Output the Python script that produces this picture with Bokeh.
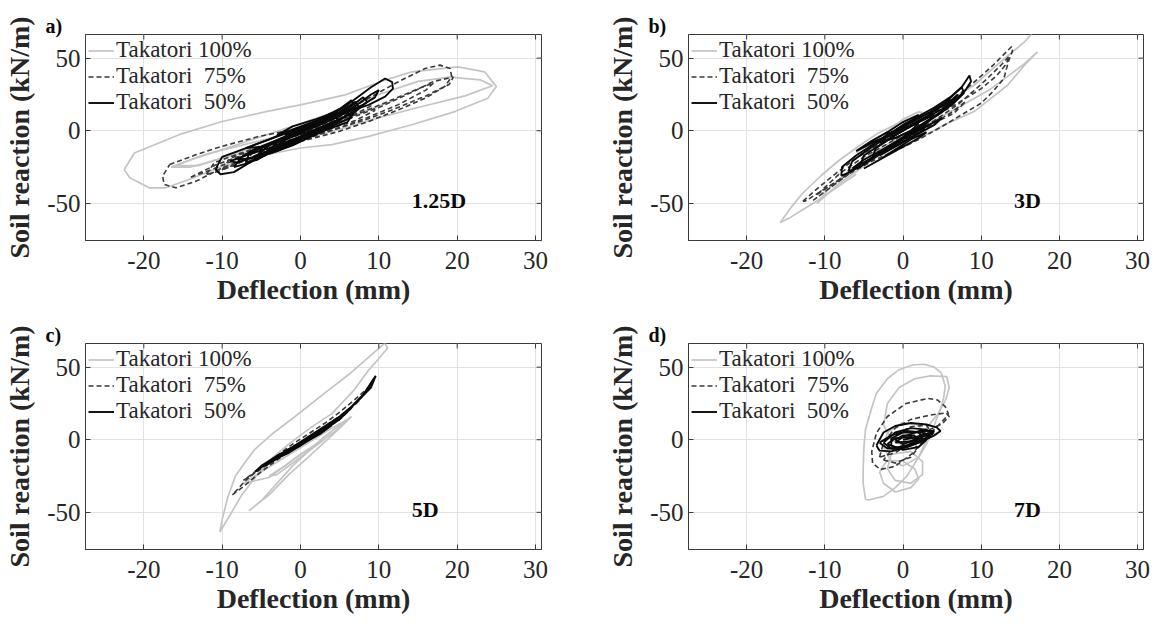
from bokeh.plotting import figure
from bokeh.models import Range1d, FixedTicker, Label, Legend, LegendItem
from bokeh.layouts import column, row
from bokeh.embed import file_html
from bokeh.resources import INLINE

# ---------------- text / ticks ----------------
SERIES = ["Takatori 100%", "Takatori\u00a0 75%", "Takatori\u00a0 50%"]
PANEL_TAGS = ["a)", "b)", "c)", "d)"]
DEPTHS = ["1.25D", "3D", "5D", "7D"]
X_TICKS = [-20, -10, 0, 10, 20, 30]
X_TICK_LABELS = ["-20", "-10", "0", "10", "20", "30"]
Y_TICKS = [-50, 0, 50]
Y_TICK_LABELS = ["-50", "0", "50"]
X_LABEL = "Deflection (mm)"
Y_LABEL = "Soil reaction (kN/m)"
X_LIM = (-27.44, 30.76)
Y_LIM = (-75.6, 66.3)

# ---------------- data (deflection mm, soil reaction kN/m), loops ----------------
# a) 1.25D
A_100 = [
    [(-22.5, -26.7), (-21.2, -15.3), (-15.5, -2.7), (-10, 6.4), (-4.4, 13.2), (0, 17.8), (5.7, 24.7), (10.2, 33.8),
     (14.2, 40.6), (20.1, 44), (23.5, 40.6), (25, 30.4), (23.9, 22.4), (19.7, 13.2), (14.2, 4.1), (8.7, -3.9),
     (4, -9.6), (0, -11.9), (-4.4, -16.4), (-10, -24.4), (-14.2, -33.6), (-17.2, -39.3), (-19.3, -39.3),
     (-21.8, -32.4), (-22.5, -26.7)],
    [(-16.5, -25), (-14, -20), (-10, -13), (-5, -4), (0, 5), (5, 14), (10, 25), (15, 34), (19, 37), (23, 35),
     (24.5, 31), (21, 24), (15, 16), (10, 9), (5, 1), (0, -6), (-5, -12), (-10, -19), (-14, -25), (-16.5, -25)],
    [(-16, -24), (-12, -16), (-6, -8), (0, 0), (6, 9), (12, 21), (10, 17), (4, 5), (-2, -5), (-8, -15), (-13, -24),
     (-16, -24)],
]
A_75 = [
    [(-16.7, -23.3), (-13.3, -16.4), (-10, -10.7), (-5.3, -3.9), (0, 1.8), (4.9, 11), (8.7, 22.4), (12.5, 33.8),
     (15.9, 42.9), (17.8, 45.2), (19.1, 42.9), (19.3, 37.2), (18.4, 30.4), (15.9, 22.4), (12.5, 14.4), (8.7, 6.4),
     (4.9, -0.5), (0, -7.3), (-5.3, -16.4), (-10, -25.6), (-13.3, -34.7), (-15.9, -39.3), (-17.4, -37),
     (-17.6, -31.3), (-16.7, -23.3)],
    [(-14, -32), (-11, -24), (-6, -14), (0, -4), (5, 6), (10, 16), (14, 26), (17, 34), (19.5, 37), (19, 32),
     (16, 24), (12, 15), (8, 7), (3, -1), (-2, -9), (-7, -17), (-11, -26), (-14, -32)],
    [(-12, -30), (-11, -22), (-8, -16), (-4, -9), (0, -2), (4, 5), (8, 13), (12, 22), (15.5, 30), (17, 33),
     (16, 28), (12.5, 18), (8.5, 9), (4.5, 1), (0.5, -6), (-3.5, -13), (-7.5, -21), (-10.5, -28), (-12, -30)],
    [(-10, -27), (-9, -19), (-6, -13), (-2, -6), (2, 1), (6, 9), (9, 17), (9.5, 14), (7, 7), (3, 0), (-1, -7),
     (-5, -15), (-8.5, -24), (-10, -27)],
    [(-7, -22), (-6, -14), (-3, -7), (1, 0), (4, 7), (7, 15), (6.5, 10), (3.5, 3), (0, -4), (-3, -11), (-5.5, -18),
     (-7, -22)],
]
A_50 = [
    [(-10.6, -24), (-10, -18), (-8.5, -15), (-6, -10), (-3, -4), (0, 2), (3, 9), (5.5, 16), (7.5, 24), (9, 30),
     (10.8, 36), (11.7, 33.5), (11.8, 29), (10.8, 23.5), (8.7, 17.8), (6, 13), (3.5, 7.5), (1, 1), (-1.5, -5),
     (-4, -13), (-6.5, -22), (-8.5, -28.5), (-10.2, -30), (-10.8, -27), (-10.6, -24)],
    [(-8.5, -25), (-7.5, -18), (-5, -12), (-2, -5), (1, 2), (4, 9), (6.5, 17), (8, 23), (8.5, 20), (7, 13),
     (4.5, 7), (2, 1), (-1, -7), (-4, -15), (-6.5, -22), (-8.5, -25)],
    [(-7, -22), (-6.5, -15), (-4, -9), (-1, -2), (2, 5), (5, 13), (7, 20), (7.5, 16), (5.5, 9), (3, 3), (0, -4),
     (-3, -12), (-5.5, -20), (-7, -22)],
    [(-5.5, -19), (-5, -12), (-2.5, -6), (0.5, 0), (3, 6), (5.5, 14), (6, 11), (4, 4), (1, -2), (-2, -9),
     (-4.5, -17), (-5.5, -19)],
    [(-4, -14), (-3, -8), (-0.5, -2), (2, 3), (4.5, 9), (5, 7), (2.5, 1), (0, -4), (-2.5, -10), (-4, -14)],
    [(-9, -21), (-7, -17), (-4, -12), (-1, -6), (2, -1), (1, -4), (-2, -10), (-5, -16), (-8, -22), (-9, -21)],
    [(-2, -3), (1, 4), (4, 11), (6.5, 21), (7, 17), (5, 10), (2, 3), (-1, -3), (-2, -3)],
    [(3, 6), (5, 11), (7, 17), (9, 25), (10, 28), (9.5, 23), (8, 18), (6, 13), (4, 9), (3, 6)],
    [(-8, -20), (-6, -13), (-3, -7), (0, -1), (3, 6), (6, 13), (6.5, 9), (4, 3), (1, -3), (-2, -10), (-5, -18),
     (-8, -20)],
    [(-6, -19), (-4, -10), (-1, -4), (2, 1), (5, 8), (7, 14), (6, 6), (3, 0), (0, -7), (-3, -14), (-6, -19)],
    [(-7, -12), (-4, -6), (-1, 1), (2, 7), (5, 15), (4, 10), (1, 3), (-2, -4), (-5, -11), (-7, -12)],
    [(-4, -16), (-2, -11), (0, -6), (2, -1), (4, 4), (3, 0), (1, -5), (-1, -10), (-4, -16)],
    [(-3, -3), (-1, 3), (2, 8), (4, 12), (3, 8), (0, 2), (-3, -3)],
]

# b) 3D
B_100 = [
    [(-15.7, -63.2), (-14.5, -54), (-12.9, -43.4), (-10.5, -31), (-8.2, -20.5), (-5.5, -10), (-3.4, -2.3),
     (0, 6.8), (3, 13), (6, 21), (9, 31), (11.3, 42), (13.5, 52), (15.5, 61), (16.5, 67), (17, 70)],
    [(-15.7, -63.2), (-14.5, -60), (-13, -55), (-11.5, -50), (-9, -41), (-6, -30)],
    [(17.2, 54.3), (15.5, 45), (13.4, 31.5), (9.1, 13.2), (5.3, 4.1), (0, -11.4), (-3.4, -18.3), (-8.2, -36.5),
     (-11, -50), (-9.5, -40), (-7, -28), (-4, -16), (-1, -6), (2, 2), (5, 10), (8, 19), (11, 28), (13.5, 38),
     (15.5, 46), (17.2, 54.3)],
    [(-6, -15), (-3, -5), (0, 8), (2, 13), (3, 12), (1, 4), (-2, -6), (-5, -16), (-6, -15)],
]
B_75 = [
    [(-12.8, -48.5), (-11, -40), (-8.5, -29), (-6, -19), (-3, -9), (0, 0), (3, 9), (6, 20), (9, 33), (11.5, 45),
     (13.9, 58), (14, 55), (13.5, 48), (12.9, 36), (11.5, 27), (10, 19), (7.5, 11), (5, 3), (2, -6), (-1, -14),
     (-4, -21), (-7, -30), (-10, -40), (-12.5, -48.5), (-12.8, -48.5)],
    [(-11, -44), (-8, -33), (-5, -22), (-2, -12), (1, -3), (4, 7), (7, 18), (10, 32), (12.5, 45), (13.6, 51.5),
     (13.2, 46), (12, 38), (10, 29), (7, 19), (4, 10), (1, 0), (-2, -9), (-5, -18), (-8, -29), (-11, -44)],
    [(-11.5, -48), (-9, -38), (-6, -26), (-3, -16), (0, -7), (3, 2), (6, 12), (8, 20), (6.5, 12), (3.5, 4),
     (0.5, -5), (-2.5, -14), (-5.5, -24), (-8.5, -36), (-11.5, -48)],
]
B_50 = [
    [(-7.9, -31), (-7.8, -25), (-6, -17), (-4, -10), (-2, -3), (0, 4), (2, 10), (4, 16), (6, 23), (7.5, 30),
     (8.5, 38), (8.7, 34), (8, 28), (6.5, 20), (5, 13), (3, 6), (1, -2), (-1, -9), (-3, -15), (-5, -22), (-7, -29),
     (-7.9, -31)],
    [(-7, -28), (-6.5, -21), (-4.5, -13), (-2.5, -6), (-0.5, 1), (1.5, 7), (3.5, 13), (5.5, 20), (7.5, 30),
     (7.8, 26), (6.5, 19), (4.5, 11), (2.5, 4), (0.5, -4), (-1.5, -11), (-3.5, -18), (-5.5, -25), (-7, -28)],
    [(-5.5, -24), (-5, -17), (-3, -10), (-1, -3), (1, 4), (3, 10), (5, 17), (6, 22), (5.8, 17), (4, 10), (2, 3),
     (0, -5), (-2, -12), (-4, -19), (-5.5, -24)],
    [(-4, -20), (-3.5, -12), (-1.5, -5), (0.5, 2), (2.5, 8), (4, 12), (3.5, 8), (1.5, 1), (-0.5, -6), (-2.5, -13),
     (-4, -20)],
    [(-6.5, -26), (-5, -20), (-3, -14), (-1, -8), (1, -2), (3, 4), (2.5, 0), (0.5, -6), (-1.5, -12), (-4, -19),
     (-6.5, -26)],
    [(-2, -4), (0, 4), (2, 9), (4, 14), (6, 20), (7, 25), (6.5, 21), (5, 15), (3, 9), (1, 3), (-1, -3), (-2, -4)],
    [(-3, -8), (-2, -2), (0, 2), (2, 5), (1, 0), (-1, -5), (-3, -8)],
    [(-6, -14), (-4, -7), (-2, -1), (0, 6), (2, 11), (1, 6), (-1, 0), (-3, -6), (-6, -14)],
    [(-5, -26), (-3, -20), (-1, -13), (1, -6), (3, -1), (2, -5), (0, -11), (-2, -17), (-5, -26)],
    [(-4, -8), (-2, -4), (0, 1), (2, 6), (4, 11), (3, 5), (1, 0), (-1, -5), (-4, -8)],
    [(-3, -17), (-1, -9), (1, -3), (3, 3), (5, 9), (4, 4), (2, -2), (0, -8), (-3, -17)],
]

# c) 5D
C_100 = [
    [(-10.3, -63.5), (-10, -55), (-9.3, -40), (-8.3, -25), (-7, -15), (-5.9, -7), (-3.5, 4.5), (-0.7, 16),
     (2.6, 30), (6.4, 46), (9.7, 61.5), (10.8, 66.7), (11.1, 63), (10, 56), (8.7, 48), (6.8, 34), (4, 18),
     (1.2, 8), (-1.5, -3), (-3.5, -12), (-5.5, -24), (-7.5, -38), (-9, -52), (-10.3, -63.5)],
    [(-6.6, -49), (-5, -42), (-3, -30), (-1, -18), (1, -8), (3, 2), (5, 10), (6.5, 16), (5, 8), (3, -2), (1, -12),
     (-1.5, -24), (-4, -38), (-6.6, -49)],
    [(-7.3, -30), (-5, -22), (-2, -12), (1, -2), (4, 8), (6, 14), (4.5, 6), (2, -3), (-1, -14), (-4, -26),
     (-7.3, -30)],
    [(-4, -25), (-2, -18), (0, -10), (2, -3), (3, 0), (1, -8), (-1, -16), (-3, -24), (-4, -25)],
]
C_75 = [
    [(-8.7, -38), (-7, -31), (-5, -22), (-3, -14), (-1, -6), (1, 1), (3, 8), (5, 16), (7, 25), (8.5, 34),
     (9.3, 42), (8.7, 36), (7, 28), (5, 19), (3, 11), (1, 4), (-1, -3), (-3, -11), (-5, -19), (-7, -28),
     (-8.7, -38)],
    [(-7.3, -28), (-5, -20), (-2.5, -11), (0, -3), (2.5, 5), (5, 14), (7.5, 27), (9.3, 40), (8, 30), (5.5, 18),
     (3, 9), (0.5, 0), (-2, -8), (-4.5, -17), (-7.3, -28)],
]
C_50 = [
    [(-5.8, -22), (-4, -15), (-2, -8), (0, -2), (2, 5), (4, 12), (6, 20), (8, 31), (9.6, 44), (9, 36), (7, 25),
     (5, 16), (3, 9), (1, 2), (-1, -5), (-3, -11), (-5, -18), (-5.8, -22)],
    [(-4.5, -18), (-2.5, -11), (-0.5, -4), (1.5, 2), (3.5, 9), (5.5, 17), (6.5, 22), (5, 14), (3, 7), (1, 1),
     (-1, -6), (-3, -13), (-4.5, -18)],
    [(-3.5, -14), (-1.5, -7), (0.5, -1), (2.5, 5), (4, 10), (2.5, 4), (0.5, -2), (-1.5, -9), (-3.5, -14)],
    [(-2, -10), (0, -4), (2, 3), (3, 7), (1, 0), (-1, -6), (-2, -10)],
]

# d) 7D
D_100 = [
    [(-4.8, -41), (-5.1, -30), (-5.1, -20), (-5, -5), (-4.8, 7), (-4, 22), (-3.4, 32), (-2, 42), (-0.6, 48),
     (1.2, 51.5), (2.7, 52), (4, 50), (4.9, 46), (5.4, 37), (5.2, 29), (4.9, 23), (4, 10), (3, -3), (2, -12),
     (0.5, -25), (-1, -33), (-2.5, -39), (-4.4, -41.5), (-4.8, -41)],
    [(-2.5, 10), (-2, 25), (-0.5, 36), (1.5, 42), (3.5, 44), (5.6, 43.5), (5.9, 36), (5.5, 28), (4.5, 18), (3, 8),
     (1.5, 0), (0, -4), (-1.5, 0), (-2.5, 10)],
    [(-3, -22), (-2.5, -30), (-1, -36), (1, -33), (2, -27), (1.5, -20), (0, -15), (-2, -14), (-3, -22)],
    [(-1.5, -10), (-2, -20), (-1, -28), (1, -30), (2.5, -24), (2.5, -15), (1, -8), (-1.5, -10)],
    [(-2, 5), (-2.5, -5), (-1.5, -15), (0, -18), (2, -12), (3, 0), (2, 10), (0, 12), (-2, 5)],
]
D_75 = [
    [(-3.9, -16), (-4, -8), (-3.4, 4.6), (-2, 16), (0.4, 25), (3.2, 28.5), (4.4, 27.4), (5.4, 22.8), (5.8, 18),
     (5.6, 16), (4.6, 10.3), (3, 2), (1.3, -9), (-1, -18.3), (-2.9, -20.5), (-3.9, -16)],
    [(-3, -12), (-2.5, -2), (-1, 8), (1, 14), (3.5, 17), (5.5, 18.5), (5.9, 16), (5, 11), (3, 6), (1, -2),
     (-1, -9), (-3, -12)],
    [(-2, -6), (-1, 3), (1, 9), (3, 10), (3.5, 6), (2, 0), (0, -6), (-2, -6)],
    [(-2.5, -14), (-1, -16), (1, -12), (2, -5), (0.5, -3), (-1.5, -7), (-2.5, -14)],
]
D_50 = [
    [(-3.4, -4), (-3, -7.5), (-1.5, -8), (0.5, -5), (2.5, -1), (4, 3), (4.8, 6), (4.3, 8.5), (3, 10.5), (1, 11.5),
     (-1, 9.5), (-2.5, 5), (-3.4, -4)],
    [(-2.5, -2), (-1.5, -6), (0.5, -4), (2.5, 0), (3.8, 4), (3, 7), (1, 8), (-1, 5), (-2.5, -2)],
    [(-1.5, -4), (-0.5, -6), (1, -3), (2.5, 2), (2, 5), (0, 5), (-1.5, 1), (-1.5, -4)],
    [(-1, 0), (0, -3), (1.5, 0), (1.5, 3), (0, 3), (-1, 0)],
    [(-2, -3), (0, -7), (2, -5), (3, 0), (1, 2), (-1, 1), (-2, -3)],
    [(0, 0), (2, 2), (4, 5), (3, 4), (1, 1), (0, 0)],
    [(-3, -2), (-2, -6), (0, -6), (2, -2), (3.5, 2), (2.5, 5), (0.5, 6), (-1.5, 3), (-3, -2)],
    [(-1, -2), (1, -1), (3, 3), (4, 6), (2, 6), (0, 2), (-1, -2)],
]

PANEL_DATA = [(A_100, A_75, A_50), (B_100, B_75, B_50), (C_100, C_75, C_50), (D_100, D_75, D_50)]

# ---------------- styling ----------------
SERIF = "'Liberation Serif', 'Times New Roman', serif"
GRAY = "#c4c4c4"
DARK = "#3a3a3a"
BLACK = "#0a0a0a"
FRAME = "#3a3a3a"
TXT = "#262626"
TICK_PX = 5


def loops_to_xy(loops):
    xs = [[pt[0] for pt in lp] for lp in loops]
    ys = [[pt[1] for pt in lp] for lp in loops]
    return xs, ys


def make_panel(i, width, height, bl, br, bt, bb):
    p = figure(width=width, height=height, output_backend="svg", toolbar_location=None,
               x_range=Range1d(*X_LIM), y_range=Range1d(*Y_LIM),
               min_border_left=bl, min_border_right=br, min_border_top=bt, min_border_bottom=bb)
    p.background_fill_color = "white"
    p.border_fill_color = "white"
    p.outline_line_color = FRAME
    p.outline_line_width = 1

    s100, s75, s50 = PANEL_DATA[i]
    xs, ys = loops_to_xy(s100)
    r1 = p.multi_line(xs, ys, line_color=GRAY, line_width=1.7)
    xs, ys = loops_to_xy(s75)
    r2 = p.multi_line(xs, ys, line_color=DARK, line_width=1.6, line_dash="5 3")
    xs, ys = loops_to_xy(s50)
    r3 = p.multi_line(xs, ys, line_color=BLACK, line_width=1.9)

    # axes
    xa = p.xaxis[0]
    xa.ticker = FixedTicker(ticks=X_TICKS)
    xa.major_label_overrides = {t: l for t, l in zip(X_TICKS, X_TICK_LABELS)}
    xa.axis_label = X_LABEL
    ya = p.yaxis[0]
    ya.ticker = FixedTicker(ticks=Y_TICKS)
    ya.major_label_overrides = {t: l for t, l in zip(Y_TICKS, Y_TICK_LABELS)}
    ya.axis_label = Y_LABEL
    for ax in (xa, ya):
        ax.axis_label_text_font = SERIF
        ax.axis_label_text_font_style = "bold"
        ax.axis_label_text_font_size = "28px"
        ax.axis_label_text_color = TXT
        ax.major_label_text_font = SERIF
        ax.major_label_text_font_style = "normal"
        ax.major_label_text_font_size = "25px"
        ax.major_label_text_color = TXT
        ax.major_tick_in = TICK_PX
        ax.major_tick_out = 0
        ax.minor_tick_line_color = None
        ax.axis_line_color = FRAME
        ax.major_tick_line_color = FRAME
    xa.major_label_standoff = 11
    xa.axis_label_standoff = 2
    ya.major_label_standoff = 5
    ya.axis_label_standoff = 9

    p.xgrid[0].ticker = FixedTicker(ticks=X_TICKS)
    p.ygrid[0].ticker = FixedTicker(ticks=Y_TICKS)
    for g in (p.xgrid[0], p.ygrid[0]):
        g.grid_line_color = "#e2e2e2"
        g.grid_line_width = 1

    # box ticks (inward) on the top and right edges, at the same tick values
    frame_w = width - bl - br
    frame_h = height - bt - bb
    dy = TICK_PX * (Y_LIM[1] - Y_LIM[0]) / frame_h
    dx = TICK_PX * (X_LIM[1] - X_LIM[0]) / frame_w
    p.segment(x0=X_TICKS, y0=[Y_LIM[1]] * len(X_TICKS), x1=X_TICKS, y1=[Y_LIM[1] - dy] * len(X_TICKS),
              line_color=FRAME, line_width=1)
    p.segment(x0=[X_LIM[1]] * len(Y_TICKS), y0=Y_TICKS, x1=[X_LIM[1] - dx] * len(Y_TICKS), y1=Y_TICKS,
              line_color=FRAME, line_width=1)

    legend = Legend(items=[LegendItem(label=SERIES[0], renderers=[r1]),
                           LegendItem(label=SERIES[1], renderers=[r2]),
                           LegendItem(label=SERIES[2], renderers=[r3])],
                    location="top_left", margin=0, padding=3, spacing=0,
                    label_text_font=SERIF, label_text_font_style="normal",
                    label_text_font_size="23px", label_text_color=TXT,
                    label_height=25, glyph_height=25, glyph_width=26, label_standoff=2,
                    background_fill_alpha=0, border_line_alpha=0)
    p.add_layout(legend)

    p.add_layout(Label(x=14.2, y=-48, text=DEPTHS[i], text_font=SERIF, text_font_style="bold",
                       text_font_size="22px", text_color=BLACK, text_align="left",
                       text_baseline="middle"))

    p.title.text = PANEL_TAGS[i]
    p.title.align = "left"
    p.title.offset = -40
    p.title.standoff = -5
    p.title.text_font = SERIF
    p.title.text_font_style = "bold"
    p.title.text_font_size = "20px"
    p.title.text_color = BLACK
    return p


pa = make_panel(0, 588, 313, 85, 47, 34, 73)
pb = make_panel(1, 572, 313, 100, 17, 34, 73)
pc = make_panel(2, 588, 309, 85, 47, 30, 73)
pd = make_panel(3, 572, 309, 100, 17, 30, 73)

layout = column(row(pa, pb), row(pc, pd))
open("out.html", "w").write(file_html(layout, INLINE))
